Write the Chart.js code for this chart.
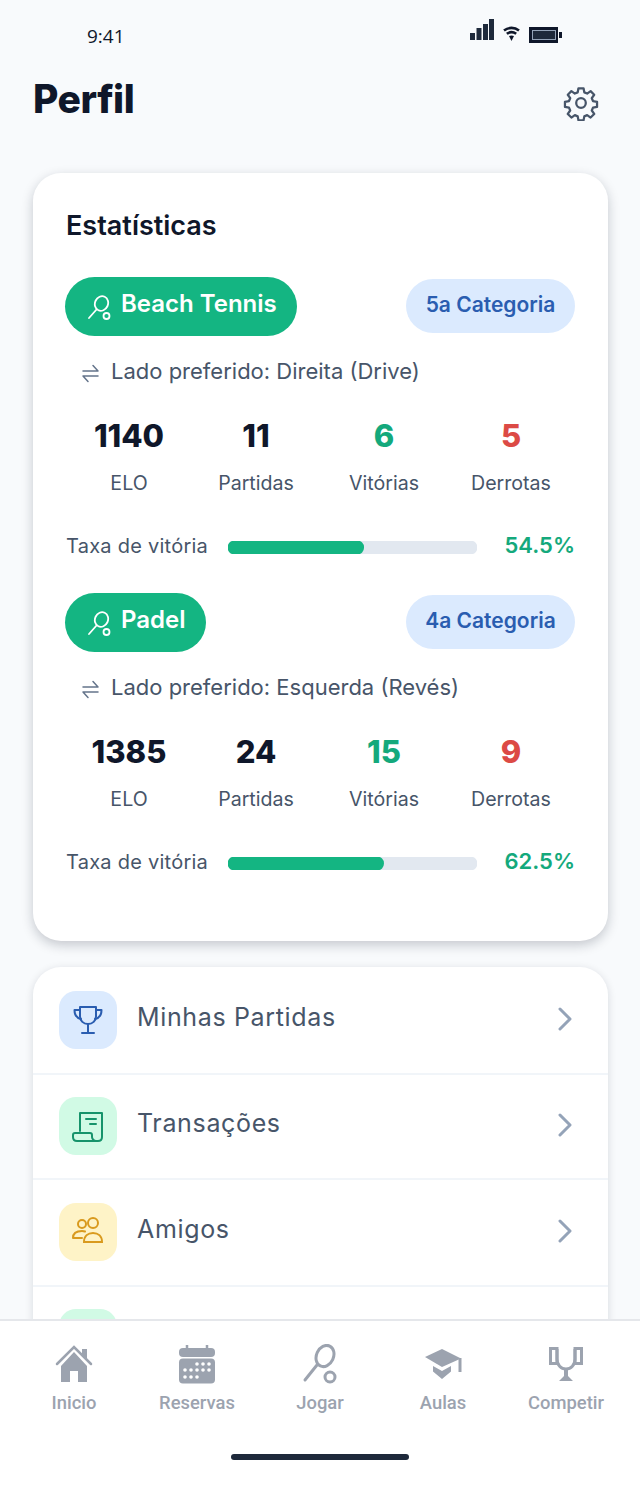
<!DOCTYPE html>
<html lang="pt">
<head>
<meta charset="utf-8">
<title>Perfil</title>
<script src="https://cdn.jsdelivr.net/npm/chart.js@4"></script>
<style>
  * { box-sizing: border-box; margin: 0; padding: 0; }
  html, body { width: 640px; height: 1486px; overflow: hidden; background: #f8fafc; }
  body { position: relative; font-family: Inter, sans-serif; }
  .abs { position: absolute; white-space: nowrap; line-height: 1; }
  .mid { transform: translateY(-50%); }
  .ctr { transform: translate(-50%, -50%); text-align: center; }
  .card { position: absolute; left: 33px; width: 575px; background: #fff; border-radius: 28px; }
  .sep { position: absolute; left: 33px; width: 575px; height: 2px; background: #f1f5f9; }
  .icon-box { position: absolute; left: 59px; width: 58px; height: 58px; border-radius: 17px; display: flex; align-items: center; justify-content: center; }
  .nav { position: absolute; left: 0; top: 1319px; width: 640px; height: 167px; background: #fff; border-top: 2px solid #e5e7eb; }
  canvas { position: absolute; }
</style>
</head>
<body>
<div id="app"></div>
<script>
const sports = ["Beach Tennis", "Padel"];
const categories = ["5a Categoria", "4a Categoria"];
const sides = ["Lado preferido: Direita (Drive)", "Lado preferido: Esquerda (Revés)"];
const elo = [1140, 1385];
const matches = [11, 24];
const wins = [6, 15];
const losses = [5, 9];
const winRate = [54.5, 62.5];
const trackMax = [100];
const statLabels = ["ELO", "Partidas", "Vitórias", "Derrotas"];
const menuItems = ["Minhas Partidas", "Transações", "Amigos"];
const navItems = ["Inicio", "Reservas", "Jogar", "Aulas", "Competir"];

const GREEN = "#14b582";
const racket = (c, w) => `<g fill="none" stroke="${c}" stroke-width="${w}" stroke-linecap="round"><ellipse cx="14.5" cy="8.5" rx="6.5" ry="7.5" transform="rotate(25 14.5 8.5)"/><path d="M9.5 14.5 2 23"/><circle cx="19.5" cy="21" r="3"/></g>`;

function text(str, x, y, size, weight, color, cls, extra) {
  return `<div class="abs ${cls}" style="left:${x}px;top:${y}px;font-size:${size}px;font-weight:${weight};color:${color};${extra || ""}">${str}</div>`;
}

function statusBar() {
  let bars = "";
  [[0, 7], [6.5, 12], [13, 16], [19, 21]].forEach(([x, h]) => {
    bars += `<rect x="${x}" y="${21 - h}" width="5" height="${h}" fill="#1e293b"/>`;
  });
  return text("9:41", 87, 36, 19, 500, "#0f172a", "mid", "font-family:'Open Sans';") +
    `<svg class="abs" style="left:470px;top:19px" width="25" height="21">${bars}</svg>
     <svg class="abs" style="left:503px;top:26px" width="17" height="15" viewBox="0 0 17 15" fill="none" stroke="#0f172a" stroke-width="2.6"><path d="M1 4.500c4.500-3.500 10.500-3.500 15 0"/><path d="M3.800 7.800c2.800-2 6.600-2 9.400 0"/><path d="M8.500 15 6 10c1.500-.8 3.500-.8 5 0z" fill="#0f172a" stroke="none"/></svg>
     <svg class="abs" style="left:529px;top:27px" width="34" height="16"><rect width="29" height="16" fill="#0f172a"/><rect x="3.500" y="3.500" width="23" height="9" fill="#1e293b" stroke="#94a3b8" stroke-width="1"/><rect x="30" y="5" width="3" height="6" fill="#0f172a"/></svg>`;
}

function header() {
  return text("Perfil", 33, 98, 39, 800, "#0f172a", "mid", "letter-spacing:-.5px;") +
    `<svg class="abs" style="left:563px;top:85px" width="36" height="36" viewBox="0 0 24 24" fill="none" stroke="#475569" stroke-width="1.5" stroke-linecap="round" stroke-linejoin="round"><circle cx="12" cy="12" r="3.200"/><path d="M10.300 2.200h3.400l.5 2.700 1.900.8 2.300-1.600 2.400 2.400-1.600 2.300.8 1.900 2.700.5v3.400l-2.700.5-.8 1.900 1.600 2.300-2.400 2.400-2.300-1.600-1.900.8-.5 2.700h-3.400l-.5-2.700-1.900-.8-2.300 1.600-2.400-2.400 1.600-2.300-.8-1.900-2.700-.5v-3.400l2.700-.5.8-1.900-1.600-2.300 2.400-2.400 2.300 1.600 1.900-.8z"/></svg>`;
}

function sportBlock(i, dy, pillW, catX) {
  const values = [elo[i], matches[i], wins[i], losses[i]];
  const colors = ["#0f172a", "#0f172a", "#14a97c", "#dc4a45"];
  const centers = [129, 256, 384, 511];
  let html = `<div class="abs" style="left:65px;top:${277 + dy}px;width:${pillW}px;height:59px;border-radius:30px;background:${GREEN}"></div>`;
  html += `<svg class="abs" style="left:87px;top:${295 + dy}px" width="24" height="26" viewBox="0 0 24 26">${racket("#fff", 1.8)}</svg>`;
  html += text(sports[i], 121, 304 + dy, 24, 600, "#fff", "mid");
  html += `<div class="abs" style="left:${catX}px;top:${279 + dy}px;width:${575 - catX}px;height:54px;border-radius:27px;background:#dbeafe"></div>`;
  html += text(categories[i], (catX + 575) / 2, 304 + dy, 21, 600, "#2a5db0", "ctr");
  html += `<svg class="abs" style="left:81px;top:${364 + dy}px" width="19" height="19" viewBox="0 0 19 19" fill="none" stroke="#64748b" stroke-width="1.5" stroke-linecap="round" stroke-linejoin="round"><path d="M2 7h15l-5-5.500M17 12H2l5 5.500"/></svg>`;
  html += text(sides[i], 111, 371 + dy, 22, 400, "#475569", "mid");
  values.forEach((v, k) => {
    html += text(v, centers[k], 435 + dy, 31, 800, colors[k], "ctr");
    html += text(statLabels[k], centers[k], 484 + dy, 19.6, 400, "#475569", "ctr");
  });
  html += text("Taxa de vitória", 66, 546 + dy, 20, 400, "#475569", "mid", "letter-spacing:.25px;");
  html += `<canvas id="rate${i}" width="249" height="13" style="left:228px;top:${541 + dy}px;width:249px;height:13px"></canvas>`;
  html += `<div class="abs mid" style="right:65px;top:${545 + dy}px;font-size:22px;font-weight:600;color:#14a97c">${winRate[i]}%</div>`;
  return html;
}

function menu() {
  const tops = [991, 1097, 1203];
  const boxColors = ["#dbeafe", "#d1fae5", "#fef3c7"];
  const icons = [
    `<g fill="none" stroke="#2a5db0" stroke-width="2" stroke-linecap="round" stroke-linejoin="round"><path d="M8 3h16v9c0 5-3.500 8-8 8s-8-3-8-8z"/><path d="M8 6H2.500c0 5 2 8 6.500 9M24 6h5.500c0 5-2 8-6.500 9M16 20v8M10 29h12"/></g>`,
    `<g fill="none" stroke="#16936b" stroke-width="2" stroke-linecap="round" stroke-linejoin="round"><path d="M8 20V2h22v24c0 3-2 4-4 4H5c-3 0-4-2-4-4v-2c0-1 1-2 2-2h15c1 0 2 1 2 2v2c0 2 2 4 4 4"/><path d="M14 8h10M18 13h6"/></g>`,
    `<g fill="none" stroke="#d99a1e" stroke-width="2" stroke-linecap="round"><circle cx="10" cy="8" r="4"/><circle cx="21" cy="7" r="5"/><path d="M1 22c0-5 4-7 9-7 1 0 2 0 3 .5M1 22h9"/><path d="M12 26c0-6 4-9 9-9s9 3 9 9z"/></g>`
  ];
  let html = `<div class="card" style="top:967px;height:420px;box-shadow:0 2px 8px rgba(15,23,42,.14)"></div>`;
  [1073, 1178, 1285].forEach((y) => { html += `<div class="sep" style="top:${y}px"></div>`; });
  menuItems.forEach((name, i) => {
    const vb = i === 1 ? "0 -1 32 32" : "0 0 32 32";
    html += `<div class="icon-box" style="top:${tops[i]}px;background:${boxColors[i]}"><svg width="32" height="32" viewBox="${vb}">${icons[i]}</svg></div>`;
    html += text(name, 137, tops[i] + 26, 25, 400, "#475569", "mid", "letter-spacing:.65px;");
    html += `<svg class="abs" style="left:557px;top:${tops[i] + 16}px" width="16" height="24" fill="none" stroke="#94a3b8" stroke-width="3" stroke-linecap="round" stroke-linejoin="round"><path d="M3 2l10 10-10 10"/></svg>`;
  });
  html += `<div class="icon-box" style="top:1309px;background:#d1fae5"></div>`;
  return html;
}

function bottomNav() {
  const c = "#9ca3af";
  const centers = [74, 197, 320, 443, 566];
  const icons = [
    `<path d="M2 20 19 3l17 17" fill="none" stroke="${c}" stroke-width="2.500" stroke-linecap="round"/><path d="M27 5h5v10l-5-5z M6 22 19 8l13 14v16H23V27h-8v11H6z" fill="${c}"/>`,
    `<rect x="1" y="4" width="36" height="9" rx="4" fill="${c}"/><rect x="1" y="14.500" width="36" height="25" rx="4" fill="${c}"/><path d="M9 1v5M29 1v5" stroke="${c}" stroke-width="2.500"/><g fill="#fff"><circle cx="19" cy="20" r="1.800"/><circle cx="25" cy="20" r="1.800"/><circle cx="31" cy="20" r="1.800"/><circle cx="7" cy="26" r="1.800"/><circle cx="13" cy="26" r="1.800"/><circle cx="19" cy="26" r="1.800"/><circle cx="25" cy="26" r="1.800"/><circle cx="31" cy="26" r="1.800"/><circle cx="7" cy="33" r="1.800"/><circle cx="13" cy="33" r="1.800"/><circle cx="19" cy="33" r="1.800"/></g>`,
    `<g fill="none" stroke="${c}" stroke-width="3" stroke-linecap="round"><ellipse cx="24" cy="12" rx="8.500" ry="11" transform="rotate(25 24 12)"/><path d="M16 21 4 36"/><circle cx="29" cy="33" r="5"/></g>`,
    `<path d="M1 13 18 5l19 9.500-19 8.500z" fill="${c}"/><path d="M9 22l9 5 9-5v5.500l-9 7.500-9-7.500z" fill="${c}"/><path d="M36 14v14" stroke="${c}" stroke-width="3"/>`,
    `<g fill="none" stroke="${c}" stroke-width="3"><rect x="3.500" y="4.500" width="6.500" height="15"/><rect x="28" y="4.500" width="6.500" height="15"/><path d="M10 5v10c0 6 4 10 9 10s9-4 9-10V5"/></g><path d="M17 25h4v7l5 5H12l5-5z" fill="${c}"/>`
  ];
  let html = `<div class="nav"></div>`;
  navItems.forEach((name, i) => {
    html += `<svg class="abs" style="left:${centers[i] - 19}px;top:1344px" width="38" height="40" viewBox="0 0 38 40">${icons[i]}</svg>`;
    html += text(name, centers[i], 1403, 18.4, 500, c, "ctr", "font-family:Roboto;");
  });
  html += `<div class="abs" style="left:231px;top:1454px;width:178px;height:6px;border-radius:3px;background:#1e293b"></div>`;
  return html;
}

function renderRate(i) {
  new Chart(document.getElementById("rate" + i), {
    type: "bar",
    data: {
      labels: [sports[i]],
      datasets: [
        { data: [winRate[i]], backgroundColor: GREEN },
        { data: trackMax, backgroundColor: "#e2e8f0" },
      ],
    },
    options: {
      indexAxis: "y",
      responsive: false,
      animation: false,
      layout: { padding: 0 },
      datasets: {
        bar: {
          grouped: false,
          barPercentage: 1,
          categoryPercentage: 1,
          borderRadius: 7,
          borderSkipped: false,
        },
      },
      scales: {
        x: { display: false, min: 0, max: 100 },
        y: { display: false },
      },
      plugins: { legend: { display: false }, tooltip: { enabled: false } },
    },
  });
}

document.getElementById("app").innerHTML =
  statusBar() + header() +
  `<div class="card" style="top:173px;height:768px;box-shadow:0 4px 12px rgba(15,23,42,.22)"></div>` +
  text("Estatísticas", 66, 225, 27, 600, "#0f172a", "mid") +
  sportBlock(0, 0, 232, 406) +
  sportBlock(1, 316, 141, 406) +
  menu() + bottomNav();

sports.forEach((_, i) => renderRate(i));
</script>
</body>
</html>
